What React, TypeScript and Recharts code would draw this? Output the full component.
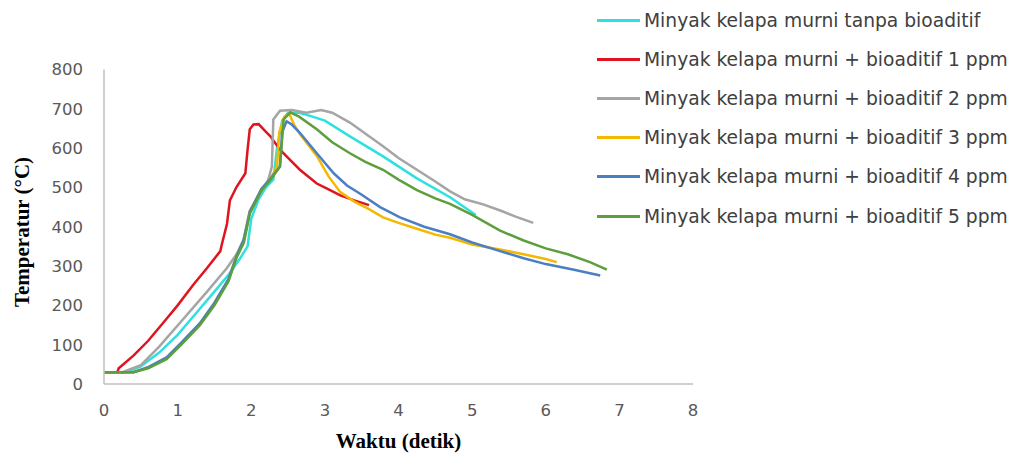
import { LineChart, Line, XAxis, YAxis } from "recharts";

// time (detik) and temperature (°C), one pair per series
const tanpaX = [0, 0.3, 0.5, 0.75, 1.0, 1.25, 1.5, 1.7, 1.85, 1.95, 2.0, 2.1, 2.2, 2.3, 2.35, 2.42, 2.5, 2.65, 2.8, 3.0, 3.34, 3.79, 4.25, 4.7, 5.05];
const tanpaY = [30, 30, 45, 80, 125, 180, 235, 280, 320, 350, 420, 470, 500, 520, 600, 670, 690, 690, 682, 670, 630, 579, 523, 475, 430];

const ppm1X = [0, 0.18, 0.2, 0.4, 0.6, 0.85, 1.0, 1.21, 1.4, 1.58, 1.6, 1.67, 1.71, 1.8, 1.92, 1.95, 1.98, 2.03, 2.1, 2.19, 2.26, 2.39, 2.48, 2.66, 2.89, 3.03, 3.21, 3.4, 3.6];
const ppm1Y = [30, 30, 40, 72, 110, 166, 200, 252, 295, 338, 355, 407, 467, 501, 536, 596, 648, 660, 661, 643, 630, 596, 579, 545, 510, 497, 480, 467, 455];

const ppm2X = [0, 0.25, 0.5, 0.75, 1.08, 1.4, 1.67, 1.8, 1.89, 1.98, 2.12, 2.23, 2.28, 2.3, 2.39, 2.55, 2.75, 2.95, 3.1, 3.34, 3.6, 3.79, 4.0, 4.25, 4.5, 4.7, 4.9, 5.15, 5.4, 5.6, 5.83];
const ppm2Y = [30, 30, 48, 95, 166, 235, 295, 330, 364, 441, 484, 519, 553, 673, 695, 697, 690, 697, 690, 665, 630, 605, 575, 545, 515, 490, 470, 457, 440, 425, 410];

const ppm3X = [0, 0.4, 0.6, 0.85, 1.05, 1.3, 1.5, 1.69, 1.8, 1.9, 1.98, 2.14, 2.26, 2.35, 2.38, 2.45, 2.52, 2.58, 2.66, 2.89, 3.05, 3.21, 3.4, 3.6, 3.79, 4.0, 4.25, 4.5, 4.7, 5.0, 5.38, 5.7, 6.0, 6.15];
const ppm3Y = [30, 30, 42, 66, 104, 152, 205, 265, 325, 365, 437, 497, 522, 553, 640, 680, 686, 660, 636, 580, 528, 488, 464, 445, 424, 410, 395, 380, 372, 355, 342, 330, 318, 310];

const ppm4X = [0, 0.4, 0.6, 0.85, 1.05, 1.3, 1.5, 1.69, 1.8, 1.9, 1.98, 2.14, 2.26, 2.39, 2.42, 2.48, 2.55, 2.66, 2.89, 3.12, 3.3, 3.48, 3.75, 4.02, 4.35, 4.7, 5.0, 5.38, 5.7, 6.0, 6.4, 6.74];
const ppm4Y = [30, 30, 43, 68, 105, 154, 207, 267, 325, 368, 438, 497, 522, 553, 640, 668, 660, 639, 587, 536, 505, 484, 450, 424, 400, 381, 360, 338, 320, 305, 290, 276];

const ppm5X = [0, 0.4, 0.6, 0.85, 1.05, 1.3, 1.5, 1.69, 1.8, 1.9, 1.98, 2.14, 2.26, 2.39, 2.44, 2.53, 2.65, 2.89, 3.1, 3.34, 3.55, 3.79, 4.0, 4.25, 4.5, 4.7, 5.0, 5.38, 5.7, 6.0, 6.3, 6.6, 6.83];
const ppm5Y = [30, 30, 40, 63, 100, 149, 200, 261, 321, 360, 433, 493, 519, 553, 673, 691, 680, 648, 615, 587, 565, 545, 520, 493, 472, 458, 430, 390, 365, 345, 330, 310, 291];

const xTicks = [0, 1, 2, 3, 4, 5, 6, 7, 8];
const yTicks = [0, 100, 200, 300, 400, 500, 600, 700, 800];

const series = [
  { name: "Minyak kelapa murni tanpa bioaditif", xs: tanpaX, ys: tanpaY, color: "#2FE0E0" },
  { name: "Minyak kelapa murni + bioaditif 1 ppm", xs: ppm1X, ys: ppm1Y, color: "#E0141E" },
  { name: "Minyak kelapa murni + bioaditif 2 ppm", xs: ppm2X, ys: ppm2Y, color: "#A5A5A5" },
  { name: "Minyak kelapa murni + bioaditif 3 ppm", xs: ppm3X, ys: ppm3Y, color: "#F5B800" },
  { name: "Minyak kelapa murni + bioaditif 4 ppm", xs: ppm4X, ys: ppm4Y, color: "#4A7FC4" },
  { name: "Minyak kelapa murni + bioaditif 5 ppm", xs: ppm5X, ys: ppm5Y, color: "#5E9E3C" },
];

const toPoints = (xs: number[], ys: number[]) => xs.map((x, i) => ({ x, y: ys[i] }));

const tickStyle = { fill: "#595959", fontSize: 16.5, fontFamily: "DejaVu Sans" };
const titleFont = "'Liberation Serif', 'Times New Roman', serif";

const LegendBox = () => (
  <div
    style={{
      position: "absolute",
      left: 589,
      top: -7.5,
      fontFamily: "DejaVu Sans",
      fontSize: 18.7,
      color: "#404040",
    }}
  >
    {series.map((s) => (
      <div key={s.name} style={{ height: 39.2, display: "flex", alignItems: "center" }}>
        <div style={{ width: 43, height: 3, background: s.color, marginRight: 4 }} />
        <span style={{ whiteSpace: "nowrap" }}>{s.name}</span>
      </div>
    ))}
  </div>
);

const YTitle = () => (
  <text
    x={14}
    y={224}
    transform="rotate(-90 14 224)"
    textAnchor="middle"
    dominantBaseline="central"
    fontFamily={titleFont}
    fontWeight="bold"
    fontSize={21}
    fill="#000"
  >
    Temperatur (°C)
  </text>
);

export default function App() {
  return (
    <div style={{ position: "relative", width: 1000, height: 447 }}>
      <LineChart width={1000} height={447} margin={{ top: 61.5, right: 315, bottom: 0, left: 0 }}>
        <XAxis
          type="number"
          dataKey="x"
          domain={[0, 8]}
          ticks={xTicks}
          tickLine={false}
          tickSize={0}
          tickMargin={20}
          axisLine={{ stroke: "#BFBFBF", strokeWidth: 1.5 }}
          tick={tickStyle}
          height={71}
          allowDuplicatedCategory={false}
          label={{
            value: "Waktu (detik)",
            position: "insideBottom",
            offset: 7,
            style: { fontFamily: titleFont, fontWeight: "bold", fontSize: 21, fill: "#000" },
          }}
        />
        <YAxis
          type="number"
          dataKey="y"
          domain={[0, 800]}
          ticks={yTicks}
          tickLine={false}
          tickSize={0}
          tickMargin={21}
          axisLine={{ stroke: "#BFBFBF", strokeWidth: 1.5 }}
          tick={tickStyle}
          width={96}
        />
        {series.map((s) => (
          <Line
            key={s.name}
            data={toPoints(s.xs, s.ys)}
            dataKey="y"
            name={s.name}
            type="linear"
            stroke={s.color}
            strokeWidth={2.5}
            dot={false}
            activeDot={false}
            isAnimationActive={false}
          />
        ))}
        <YTitle />
      </LineChart>
      <LegendBox />
    </div>
  );
}
